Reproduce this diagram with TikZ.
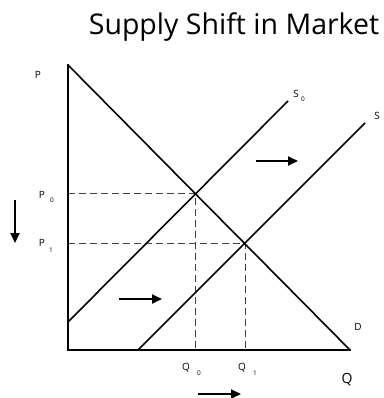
\documentclass[tikz,border=0pt]{standalone}
\usepackage{fontspec}
\setmainfont{Open Sans}
\usetikzlibrary{arrows.meta}
\begin{document}
\begin{tikzpicture}[x=1pt,y=-1pt,
  axis/.style={line width=2pt},
  curve/.style={line width=1.6pt},
  guide/.style={line width=0.8pt, dash pattern=on 7pt off 4pt, black!75},
  shiftarrow/.style={line width=1.8pt, -{Triangle[length=10pt,width=9pt]}},
  lbl/.style={font=\fontsize{10}{11}\selectfont, inner sep=0pt},
  sub/.style={font=\fontsize{6.5}{7}\selectfont, inner sep=0pt}]
\useasboundingbox (0,0) rectangle (383,398);
% title
\node[inner sep=0pt, font=\fontsize{28.5}{31}\selectfont] (title) at (234,27) {Supply Shift in Market};
% points
\coordinate (O) at (68,350);
\coordinate (top) at (68,65);
\coordinate (right) at (350,350);
\coordinate (s0a) at (68,322);
\coordinate (s0b) at (288,101);
\coordinate (s1a) at (138,350);
\coordinate (s1b) at (365,123);
\coordinate (e0) at (195,193);
\coordinate (e1) at (245,243);
\coordinate (p0) at (68,193);
\coordinate (p1) at (68,243);
\coordinate (q0) at (195,350);
\coordinate (q1) at (245,350);
% guides
\draw[guide] (p0) -- (e0) -- (q0);
\draw[guide] (p1) -- (e1) -- (q1);
% axes
\draw[axis, line cap=rect] (top) -- (O) -- (right);
% demand
\draw[curve] (top) -- (right);
% supplies
\draw[curve] (s0a) -- (s0b);
\draw[curve] (s1a) -- (s1b);
% labels
\node[lbl] (Plbl) at (38,75) {P};
\node[lbl] (S0lbl) at (296,94) {S};
\node[sub] (S0sub) at (303,99) {0};
\node[lbl] (Slbl) at (377,116) {S};
\node[lbl] (Dlbl) at (358,327) {D};
\node[lbl] (P0lbl) at (42,195) {P};
\node[sub] (P0sub) at (52,200) {0};
\node[lbl] (P1lbl) at (42,243) {P};
\node[sub] (P1sub) at (51,250) {1};
\node[lbl] (Q0lbl) at (186,368) {Q};
\node[sub] (Q0sub) at (199,373) {0};
\node[lbl] (Q1lbl) at (242,368) {Q};
\node[sub] (Q1sub) at (255,373) {1};
\node[inner sep=0pt, font=\fontsize{14}{16}\selectfont] (Qlbl) at (347,380) {Q};
% shift arrows
\coordinate (a1s) at (15,200); \coordinate (a1e) at (15,243);
\coordinate (a2s) at (256,161); \coordinate (a2e) at (298,161);
\coordinate (a3s) at (119,299); \coordinate (a3e) at (162,299);
\coordinate (a4s) at (198,394); \coordinate (a4e) at (241,394);
\draw[shiftarrow] (a1s) -- (a1e);
\draw[shiftarrow] (a2s) -- (a2e);
\draw[shiftarrow] (a3s) -- (a3e);
\draw[shiftarrow] (a4s) -- (a4e);
\end{tikzpicture}
\end{document}
